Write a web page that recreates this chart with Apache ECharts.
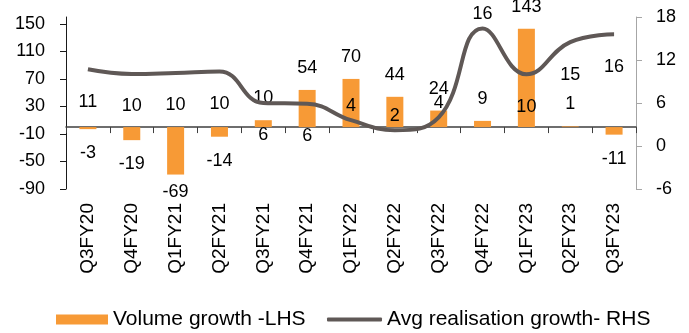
<!DOCTYPE html>
<html>
<head>
<meta charset="utf-8">
<script src="https://cdn.jsdelivr.net/npm/echarts@6/dist/echarts.min.js"></script>
<style>
html,body{margin:0;padding:0;background:#fff;}
#chart{width:689px;height:333px;}
</style>
</head>
<body>
<div id="chart"></div>
<script>
const categories = ['Q3FY20','Q4FY20','Q1FY21','Q2FY21','Q3FY21','Q4FY21','Q1FY22','Q2FY22','Q3FY22','Q4FY22','Q1FY23','Q2FY23','Q3FY23'];
const volumeGrowth = [-3, -19, -69, -14, 10, 54, 70, 44, 24, 9, 143, 1, -11];
const realisationGrowth = [10.7, 10.05, 10.2, 10.4, 6.0, 5.9, 3.6, 2.2, 4.0, 16.4, 10.0, 14.5, 15.6];
const leftTicks = [-90, -50, -10, 30, 70, 110, 150];
const rightTicks = [-6, 0, 6, 12, 18];
const seriesNames = ['Volume growth -LHS', 'Avg realisation growth- RHS'];

const FONT = '"Liberation Sans", Arial, sans-serif';
const ORANGE = '#F79A36';
const GREY_LINE = '#5F5856';
const labelAbove = new Set([6, 7, 8, 9]);

const barData = volumeGrowth.map(v => ({
  value: v,
  label: { distance: v < 0 ? (v < -50 ? 8 : 15) : 13 }
}));
const lineData = realisationGrowth.map((v, i) => ({
  value: v,
  label: labelAbove.has(i) ? { position: 'top', distance: 5 } : { position: 'bottom', distance: 23 }
}));

const chart = echarts.init(document.getElementById('chart'), null, { renderer: 'canvas' });
chart.setOption({
  animation: false,
  textStyle: { fontFamily: FONT },
  grid: { left: 66, right: 53, top: 17, bottom: 144, containLabel: false },
  legend: [
    {
      data: [{ name: seriesNames[0], icon: 'rect' }],
      left: 51, top: 304, itemWidth: 52, itemHeight: 10,
      textStyle: { fontFamily: FONT, fontSize: 21, color: '#000' }
    },
    {
      data: [{ name: seriesNames[1], icon: 'roundRect', itemStyle: { color: GREY_LINE } }],
      left: 322, top: 304, itemWidth: 55, itemHeight: 4,
      textStyle: { fontFamily: FONT, fontSize: 21, color: '#000' }
    }
  ],
  xAxis: [
    {
      type: 'category', data: categories, position: 'top',
      axisLine: { onZero: true, onZeroAxisIndex: 0, lineStyle: { color: '#3F3F3F', width: 1.5 } },
      axisTick: { show: true, inside: true, length: 6, interval: 0, lineStyle: { color: '#3F3F3F', width: 1 } },
      axisLabel: { show: false },
      splitLine: { show: false }
    },
    {
      type: 'category', data: categories, position: 'bottom',
      axisLine: { show: false }, axisTick: { show: false },
      axisLabel: { rotate: 90, interval: 0, margin: 14, fontSize: 19, color: '#000', fontFamily: FONT },
      splitLine: { show: false }
    }
  ],
  yAxis: [
    {
      type: 'value', position: 'left', min: -90, max: 160, interval: 40,
      axisLine: { show: true, onZero: false, lineStyle: { color: '#1a1a1a', width: 1 } },
      axisTick: { show: true, length: 6, lineStyle: { color: '#1a1a1a' }, customValues: leftTicks },
      axisLabel: { margin: 21, fontSize: 18, color: '#000', fontFamily: FONT, customValues: leftTicks },
      splitLine: { show: false }
    },
    {
      type: 'value', position: 'right', min: -6, max: 18, interval: 6,
      axisLine: { show: true, onZero: false, lineStyle: { color: '#A6A6A6', width: 1 } },
      axisTick: { show: true, length: 6, lineStyle: { color: '#A6A6A6' }, customValues: rightTicks },
      axisLabel: { margin: 20, fontSize: 18, color: '#000', fontFamily: FONT, customValues: rightTicks },
      splitLine: { show: false }
    }
  ],
  series: [
    {
      name: seriesNames[0], type: 'bar', xAxisIndex: 0, yAxisIndex: 0,
      data: barData, barWidth: 17,
      itemStyle: { color: ORANGE },
      label: { show: true, position: 'outside', fontSize: 18, color: '#000', fontFamily: FONT }
    },
    {
      name: seriesNames[1], type: 'line', xAxisIndex: 0, yAxisIndex: 1,
      data: lineData, smooth: 0.45,
      symbol: 'circle', symbolSize: 1, showSymbol: true,
      itemStyle: { color: 'rgba(0,0,0,0)' },
      lineStyle: { color: GREY_LINE, width: 4 },
      label: { show: true, fontSize: 18, color: '#000', fontFamily: FONT,
        formatter: p => String(Math.round(p.value)) },
      z: 3
    }
  ]
});
</script>
</body>
</html>
